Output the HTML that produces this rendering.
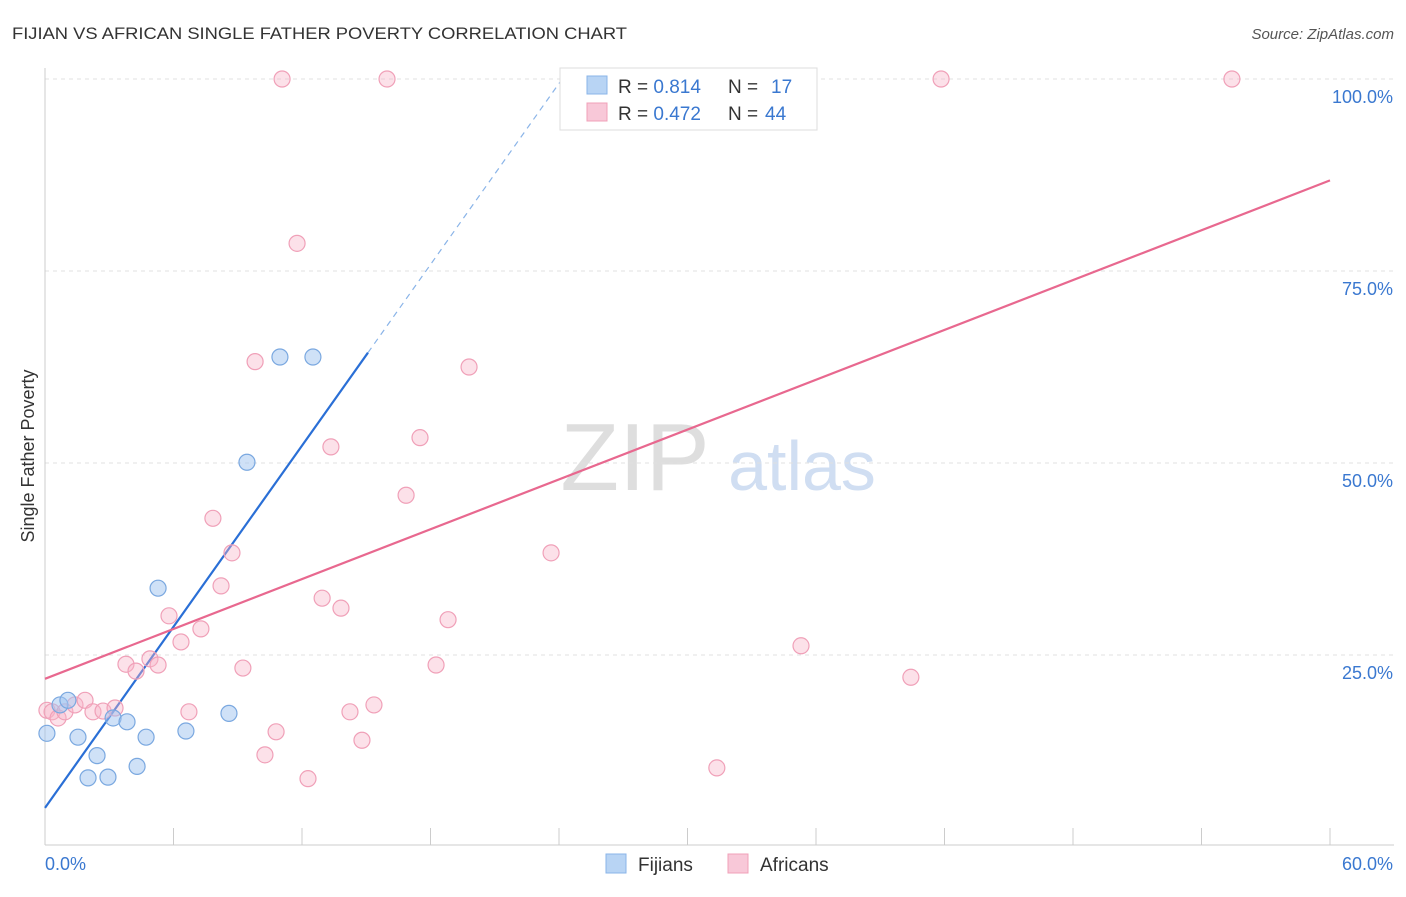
<!DOCTYPE html>
<html><head><meta charset="utf-8"><style>
body{margin:0;background:#fff;font-family:"Liberation Sans",sans-serif}
svg text{font-family:"Liberation Sans",sans-serif}
</style></head><body>
<svg id="chart" width="1406" height="892" xmlns="http://www.w3.org/2000/svg">
<text x="12" y="39" font-size="17" fill="#333" textLength="615" lengthAdjust="spacingAndGlyphs">FIJIAN VS AFRICAN SINGLE FATHER POVERTY CORRELATION CHART</text>
<text x="1394" y="39" font-size="15" fill="#555" text-anchor="end" font-style="italic">Source: ZipAtlas.com</text>
<g>
<text x="635" y="490" font-size="96" fill="#dedede" text-anchor="middle" font-family="Liberation Serif,serif">ZIP</text>
<text x="802" y="490" font-size="70" fill="#d0def2" text-anchor="middle">atlas</text>
</g>
<g id="grid"></g>
<g id="axes"></g>
<g id="lines"></g>
<g id="points"></g>
<text transform="translate(34,456) rotate(-90)" font-size="18" fill="#333" text-anchor="middle">Single Father Poverty</text>
<g>
<rect x="560" y="68" width="257" height="62" fill="#fff" stroke="#ddd"/>
<rect x="587" y="76" width="20" height="18" fill="#b8d4f4" stroke="#8ab4e8"/>
<text x="618" y="93" font-size="19" fill="#333">R = <tspan fill="#3a78d0">0.814</tspan></text>
<text x="728" y="93" font-size="19" fill="#333">N = </text>
<text x="771" y="93" font-size="19" fill="#3a78d0">17</text>
<rect x="587" y="103" width="20" height="18" fill="#f8c8d8" stroke="#f0a0b8"/>
<text x="618" y="120" font-size="19" fill="#333">R = <tspan fill="#3a78d0">0.472</tspan></text>
<text x="728" y="120" font-size="19" fill="#333">N = </text>
<text x="765" y="120" font-size="19" fill="#3a78d0">44</text>
</g>
<g>
<rect x="606" y="854" width="20" height="19" fill="#b8d4f4" stroke="#8ab4e8"/>
<text x="638" y="871" font-size="19" fill="#333">Fijians</text>
<rect x="728" y="854" width="20" height="19" fill="#f8c8d8" stroke="#f0a0b8"/>
<text x="760" y="871" font-size="19" fill="#333">Africans</text>
</g>
</svg>
<script>
const fijX=[0.09,0.70,1.07,1.54,2.01,2.43,2.94,3.18,3.83,4.30,4.72,5.28,6.58,8.59,9.43,10.97,12.51];
const fijY=[14.8,18.5,19.1,14.3,9.0,11.9,9.1,16.8,16.3,10.5,14.3,33.7,15.1,17.4,50.1,63.8,63.8];
const afrX=[0.09,0.33,0.61,0.93,1.40,1.87,2.24,2.71,3.27,3.78,4.25,4.90,5.28,5.79,6.35,6.72,7.28,7.84,8.22,8.73,9.24,9.81,10.27,10.79,11.07,11.77,12.28,12.94,13.35,13.82,14.24,14.80,15.36,15.97,16.86,17.51,18.26,18.82,19.80,23.63,31.37,35.30,40.43,41.84,55.42];
const afrY=[17.8,17.6,16.8,17.6,18.5,19.1,17.6,17.7,18.1,23.8,22.9,24.5,23.7,30.1,26.7,17.6,28.4,42.8,34.0,38.3,23.3,63.2,12.0,15.0,100,78.6,8.9,32.4,52.1,31.1,17.6,13.9,18.5,100,45.8,53.3,23.7,29.6,62.5,38.3,10.3,26.2,22.1,100,100];
const yTicks=[25,50,75,100];
const yTickLabels=["25.0%","50.0%","75.0%","100.0%"];
const xTicks=[0,6,12,18,24,30,36,42,48,54,60];
const fijLine=[5.1,3.93]; // intercept, slope
const afrLine=[21.9,86.8]; // y at x=0, y at x=60
const NS="http://www.w3.org/2000/svg";
const sx=v=>45+v*1285/60;
const sy=v=>847-v*7.68;
function mk(tag,attrs,parent){const e=document.createElementNS(NS,tag);for(const k in attrs)e.setAttribute(k,attrs[k]);document.getElementById(parent).appendChild(e);return e;}
yTicks.forEach((t,i)=>{
 const l=mk('line',{x1:45,x2:1394,y1:sy(t),y2:sy(t),stroke:'#e0e0e0','stroke-dasharray':'4,4'},'grid');
 
 
 const tx=mk('text',{x:1393,y:sy(t)+24,'font-size':18,fill:'#3a78d0','text-anchor':'end'},'grid');
 tx.textContent=yTickLabels[i];
 
 
});
const tl=mk('line',{x1:45,x2:1394,y1:79,y2:79,stroke:'#e0e0e0','stroke-dasharray':'4,4'},'grid');


const ya=mk('line',{x1:45,x2:45,y1:68,y2:845,stroke:'#ccc'},'axes');


const xa=mk('line',{x1:45,x2:1394,y1:845,y2:845,stroke:'#ccc'},'axes');


xTicks.forEach(t=>{
 const l=mk('line',{x1:sx(t),x2:sx(t),y1:828,y2:845,stroke:'#ccc'},'axes');
 
 
});
const x0=mk('text',{x:45,y:870,'font-size':18,fill:'#3a78d0'},'axes');x0.textContent='0.0%';


const x1=mk('text',{x:1393,y:870,'font-size':18,fill:'#3a78d0','text-anchor':'end'},'axes');x1.textContent='60.0%';


const fEnd=15.08, fDash=(100-fijLine[0])/fijLine[1];
const f1=mk('line',{x1:sx(0),y1:sy(fijLine[0]),x2:sx(fEnd),y2:sy(fijLine[0]+fijLine[1]*fEnd),stroke:'#2a6fd6','stroke-width':2.2},'lines');


const f2=mk('line',{x1:sx(fEnd),y1:sy(fijLine[0]+fijLine[1]*fEnd),x2:sx(fDash),y2:sy(100),stroke:'#8ab4e8','stroke-width':1.2,'stroke-dasharray':'6,5'},'lines');


const a1=mk('line',{x1:sx(0),y1:sy(afrLine[0]),x2:sx(60),y2:sy(afrLine[1]),stroke:'#e8688f','stroke-width':2.2},'lines');


afrX.forEach((v,i)=>{
 const c=mk('circle',{cx:sx(v),cy:sy(afrY[i]),r:8,fill:'rgba(248,180,200,0.4)',stroke:'#f0a0b8','stroke-width':1.2},'points');
 
 
});
fijX.forEach((v,i)=>{
 const c=mk('circle',{cx:sx(v),cy:sy(fijY[i]),r:8,fill:'rgba(160,196,240,0.5)',stroke:'#7aa8e0','stroke-width':1.2},'points');
 
 
});
</script>
</body></html>
